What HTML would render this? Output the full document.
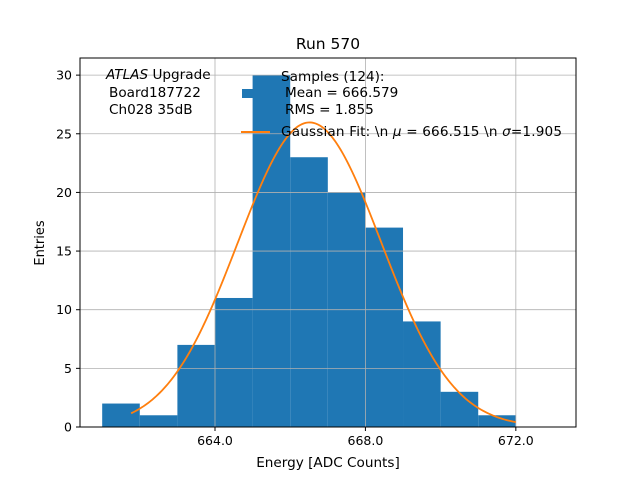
<!DOCTYPE html>
<html><head><meta charset="utf-8"><style>
body{margin:0;background:#fff}
svg{font-family:"DejaVu Sans","Liberation Sans",sans-serif}
</style></head><body>
<svg id="c" width="640" height="480" xmlns="http://www.w3.org/2000/svg">
<rect width="640" height="480" fill="#fff"/>
<g id="bars"></g><g id="grid"></g><g id="fit"></g><g id="ticks"></g>
<rect x="80" y="58" width="496" height="369" fill="none" stroke="#000" stroke-width="1"/>
<text x="328" y="49" font-size="15.5" text-anchor="middle">Run 570</text>
<text x="328" y="467" font-size="13.6" text-anchor="middle">Energy [ADC Counts]</text>
<text transform="translate(44,243) rotate(-90)" font-size="13" text-anchor="middle">Entries</text>
<g font-size="13.6">
<text x="106" y="79"><tspan font-style="italic">ATLAS</tspan> Upgrade</text>
<text x="109" y="97">Board187722</text>
<text x="109" y="114">Ch028 35dB</text>
</g>
<g font-size="13.6">
<rect x="242" y="89" width="12" height="9" fill="#1f77b4"/>
<text x="281" y="81">Samples (124):</text>
<text x="285" y="97">Mean = 666.579</text>
<text x="285" y="114">RMS = 1.855</text>
<line x1="241" y1="132" x2="270" y2="132" stroke="#ff7f0e" stroke-width="2"/>
<text x="281" y="136" textLength="281">Gaussian Fit: \n <tspan font-style="italic">μ</tspan> = 666.515 \n <tspan font-style="italic">σ</tspan>=1.905</text>
</g>
</svg>
<script>
const binEdges=[661,662,663,664,665,666,667,668,669,670,671,672];
const counts=[2,1,7,11,30,23,20,17,9,3,1];
const xTicks=[664,668,672];
const xTickLabels=["664.0","668.0","672.0"];
const yTicks=[0,5,10,15,20,25,30];
const fitMu=666.515, fitSigma=1.905, fitN=124;
const fitRange=[661.77,672];
const X0=80,X1=576,Y0=58,Y1=427,xmin=660.41,xmax=673.6,ymin=0,ymax=31.46;
const sx=v=>X0+(v-xmin)/(xmax-xmin)*(X1-X0);
const sy=v=>Y1-(v-ymin)/(ymax-ymin)*(Y1-Y0);
const NS="http://www.w3.org/2000/svg";
function mk(tag,parent,attrs){const e=document.createElementNS(NS,tag);for(const k in attrs)e.setAttribute(k,attrs[k]);document.getElementById(parent).appendChild(e);return e;}
counts.forEach((c,i)=>{
 const e=mk('rect','bars',{x:sx(binEdges[i]),y:sy(c),width:sx(binEdges[i+1])-sx(binEdges[i]),height:sy(0)-sy(c),fill:'#1f77b4'});
 
 
});
xTicks.forEach((t,i)=>{
 const g=mk('line','grid',{x1:sx(t),x2:sx(t),y1:Y0,y2:Y1,stroke:'#b0b0b0','stroke-width':0.8});
 
 
 mk('line','ticks',{x1:sx(t),x2:sx(t),y1:Y1,y2:Y1+4,stroke:'#000'});
 const l=mk('text','ticks',{x:sx(t),y:Y1+18,'font-size':12.5,'text-anchor':'middle'});
 l.textContent=xTickLabels[i];
 
 
});
yTicks.forEach(t=>{
 const g=mk('line','grid',{x1:X0,x2:X1,y1:sy(t),y2:sy(t),stroke:'#b0b0b0','stroke-width':0.8});
 
 
 mk('line','ticks',{x1:X0-4,x2:X0,y1:sy(t),y2:sy(t),stroke:'#000'});
 const l=mk('text','ticks',{x:X0-8,y:sy(t)+4.5,'font-size':12.5,'text-anchor':'end'});
 l.textContent=String(t);
 
 
});
const A=fitN*(binEdges[1]-binEdges[0])/(fitSigma*Math.sqrt(2*Math.PI));
let d='';
for(let i=0;i<=200;i++){const x=fitRange[0]+(fitRange[1]-fitRange[0])*i/200;const y=A*Math.exp(-0.5*((x-fitMu)/fitSigma)**2);d+=(i?'L':'M')+sx(x).toFixed(2)+' '+sy(y).toFixed(2);}
const p=mk('path','fit',{d:d,fill:'none',stroke:'#ff7f0e','stroke-width':1.8});


</script>
</body></html>
